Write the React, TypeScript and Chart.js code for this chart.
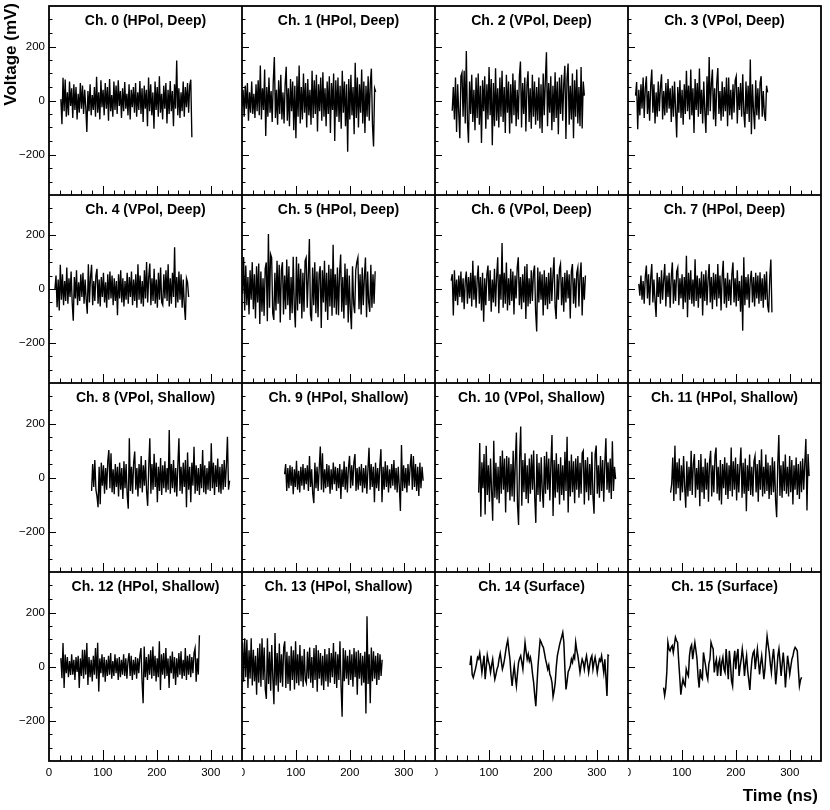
import React, { useEffect, useRef } from "react";
import { Chart, registerables } from "chart.js";

Chart.register(...registerables);

// ---------- data ----------
const TITLES = [
  "Ch. 0 (HPol, Deep)", "Ch. 1 (HPol, Deep)", "Ch. 2 (VPol, Deep)", "Ch. 3 (VPol, Deep)",
  "Ch. 4 (VPol, Deep)", "Ch. 5 (HPol, Deep)", "Ch. 6 (VPol, Deep)", "Ch. 7 (HPol, Deep)",
  "Ch. 8 (VPol, Shallow)", "Ch. 9 (HPol, Shallow)", "Ch. 10 (VPol, Shallow)", "Ch. 11 (HPol, Shallow)",
  "Ch. 12 (HPol, Shallow)", "Ch. 13 (HPol, Shallow)", "Ch. 14 (Surface)", "Ch. 15 (Surface)",
];

// first and last sample time of each trace (ns)
const T_START = [22, 0, 32, 14, 11, 1, 30, 20, 79, 79, 81, 79, 22, 1, 65, 66];
const T_END = [265, 248, 277, 259, 259, 247, 279, 267, 335, 336, 335, 336, 279, 260, 323, 322];

const X_TICK_LABELS = [0, 100, 200, 300];
const Y_TICK_LABELS = [-200, 0, 200];
const X_MIN = 0;
const X_MAX = 358;
const Y_MIN = -350;
const Y_MAX = 350;

const CH0 = [
  5, -88, 84, -40, 78, -60, 30, -55, 70, -20,
  45, -65, 60, -35, 50, -70, 25, -45, 65, -30,
  55, -50, 40, -25, -117, 35, -40, 60, -55, 20,
  -35, 50, -60, 88, -45, 30, -70, 75, -25, 40,
  -55, 65, -30, 50, -75, 80, -40, 20, -60, 70,
  -35, 55, -50, 75, -20, 35, -65, 45, -40, 68,
  -30, 25, -55, 60, -70, 40, -25, 50, -45, 65,
  -60, 30, -35, 72, -50, 45, -80, 55, -30, 40,
  -95, 85, -40, 60, -55, 30, -105, 70, -35, 50,
  -60, 90, -45, 25, -70, 55, -30, 65, -85, 40,
  -50, 72, -40, 35, -95, 60, -30, 148, -55, 45,
  -65, 30, -40, 70, -60, 50, -25, 65, -45, 55,
  77, -136,
];
const CH1 = [
  -20, 40, -60, 55, -30, 65, -75, 30, -45, 70,
  -50, 25, -65, 60, -40, 75, -55, 130, -70, 45,
  -35, 115, -131, 50, -60, 85, -45, 35, -80, 70,
  161, -65, 40, -90, 75, -50, 95, -70, 30, -85,
  60, 125, -75, 45, -95, 80, -40, 70, -110, 55,
  -140, 90, -60, 130, -85, 50, -70, 100, -45, 65,
  -100, 80, -55, 40, -90, 110, -65, 75, -50, 95,
  -115, 60, -40, 85, -75, 105, -60, 45, -95, 70,
  -50, 90, -120, 65, -35, 100, -150, 75, -60, 85,
  -80, 55, -105, 110, -45, 70, -95, 60, -190, 80,
  -70, 95, -55, 50, -125, 140, -65, 85, -100, 60,
  -45, 115, -85, 70, -120, 55, -60, 90, -75, 65,
  118, -90, -170, 45, 32,
];
const CH2 = [
  -38, 50, -70, 85, -117, 60, -45, -140, 90, 103,
  -60, 110, -85, 183, -75, -156, 70, -50, 95, -80,
  40, -110, 85, -65, 100, -90, 55, -157, 75, -40,
  90, -105, 60, -70, 124, -55, 80, -166, 65, -95,
  119, -75, 45, -100, 85, -60, 110, -80, 50, -120,
  95, -45, 70, -122, 60, -85, 100, -55, 75, -95,
  40, -70, 90, 144, -100, 65, -50, 85, -115, 55,
  108, -80, 45, -105, 95, -60, 70, -90, 50, -75,
  85, -104, 60, -120, 100, -55, 75, 179, -95, 65,
  -45, 90, -110, 55, -80, 105, -65, 70, -125, 85,
  -50, 95, -75, 60, 129, -143, 80, 137, -90, 55,
  -70, 100, -140, 75, -60, 115, -85, 50, -95, 124,
  -104, 70, 18,
];
const CH3 = [
  18, 68, -106, 40, -55, 60, -30, 85, -65, 45,
  90, -50, 35, -75, 55, 115, -45, 60, -85, 30,
  -60, 70, -40, 50, 97, -70, 35, -55, 65, -45,
  80, -30, 45, -80, 55, -60, 70, -35, -137, 50,
  -45, 75, -65, 40, -90, 60, -50, 110, -40, 55,
  -70, 115, -55, 45, -120, 80, -35, 65, -60, 118,
  -50, 40, -85, 70, -45, -120, 90, -55, 161, -40,
  60, 115, -70, 45, -95, 65, 120, -50, 35, -75,
  70, -60, 50, -40, 85, -95, 85, -55, 40, -70,
  60, -45, 75, 90, -85, 50, -35, 65, -60, 97,
  -45, -100, 70, -50, 55, -80, 152, -125, 60, -40,
  -106, 75, -55, 45, -70, 65, 90, -60, 35, -50,
  -76, 55, 30,
];
const CH4 = [
  0, 50, -68, 35, -80, 90, -40, 55, -60, 30,
  -45, 80, -55, 40, -30, 65, -50, -118, 45, -35,
  70, -60, 25, -45, 55, -30, 60, -55, 35, -40,
  -92, 92, -50, 45, 90, -60, 30, -45, 50, 75,
  -55, 35, -65, 45, -30, 60, -50, 25, -70, 55,
  -40, 65, -35, 50, -60, 40, -45, 30, -98, 55,
  -35, 70, -50, 40, -65, 30, -40, 60, -55, 45,
  -30, 65, -60, 35, -45, 55, -70, 92, -40, 50,
  -55, 30, -65, 70, -35, 100, -50, 45, 95, -60,
  40, -45, 75, -55, 35, -70, 60, -40, 80, -50,
  -60, 55, -35, 70, -45, 92, -65, 40, -55, 60,
  -30, 155, -70, 45, -50, 65, -40, 55, -70, 35,
  -60, -115, 40, 25, -30,
];
const CH5 = [
  -18, 119, -80, 87, -60, 45, -95, 70, -40, 100,
  -75, 55, -110, 85, -50, 95, -130, 65, -85, 40,
  -100, 75, 99, -120, 205, -70, 130, 117, -91, -115,
  60, -80, 105, -55, 90, -125, 70, 100, -95, 50,
  -75, 110, -60, 85, -115, 45, -90, 120, -65, -143,
  120, -80, 95, -55, 75, -110, 60, -85, 105, 117,
  -70, 50, 186, -95, -120, 80, -60, 100, -90, 65,
  -105, 55, 85, -145, 70, -50, 105, -85, 60, -115,
  90, -65, 75, -100, 165, -70, 55, -95, 80, -98,
  60, 128, -85, 45, -110, 95, -60, 75, -125, 50,
  -80, -150, 85, -55, -90, 70, 100, 117, -75, 55,
  -95, 80, -60, 45, 117, -105, 65, -50, -85, 90,
  -70, 55, -55, 66,
];
const CH6 = [
  31, 55, -99, 70, -45, 35, -60, 50, -30, 65,
  -50, 40, -75, 30, 65, -55, 45, -35, 60, -65,
  105, -40, 50, -70, 35, 87, -55, 45, -80, 60,
  -122, 40, -60, 55, 87, -45, 70, -85, 35, -50,
  75, -65, 45, 118, -90, 55, -40, 171, -70, 60,
  -55, 99, -80, 40, -60, 75, -45, 65, -95, 50,
  -35, 80, 118, -60, 45, -75, 55, -50, 85, -112,
  93, -65, 40, -55, 70, -45, 60, 87, -85, -158,
  80, -50, 65, -40, 55, -99, 70, -60, 45, -75,
  60, -55, 80, -45, 50, 118, -65, -112, 55, -40,
  75, 93, -60, 45, -85, 60, -50, 70, -35, 55,
  -110, 65, 93, -55, 40, -70, 60, 80, -65, 50,
  99, -99, 45, -40, 50,
];
const CH7 = [
  19, -25, 50, -40, 30, -55, 45, 87, -35, 55,
  -60, 40, 93, -50, 35, -45, -104, 60, -30, 45,
  -55, 70, -40, 35, 93, -65, 50, -30, 60, -70,
  45, 99, -55, 35, -45, 65, 80, -60, 40, -35,
  55, -75, 45, -50, 124, -105, 60, -40, 70, -55,
  35, -65, 111, -45, 50, -70, 40, -35, 65, -99,
  55, -45, 70, -60, 35, 93, -50, 45, -75, 60,
  -40, 55, -65, 93, -35, 50, -80, 45, 105, -55,
  40, -70, 60, -45, 35, -60, 55, 99, -50, 40,
  -65, 70, -45, 30, -85, 50, -155, 118, -60, 45,
  -40, 55, -70, 35, 68, -50, 45, -65, 60, -35,
  50, -55, 62, -45, 40, -70, 55, -40, 65, -60,
  -87, 45, 110, -87,
];
const CH8 = [
  -50, 50, -35, 65, -45, -70, -110, 40, -99, 55,
  -30, 45, -60, 35, -45, 60, 102, -40, 90, -55,
  30, -62, 50, -35, 40, -70, 55, -45, 35, -80,
  60, -40, 50, -65, -116, 145, -50, 40, -60, 55,
  96, -45, 35, -70, 50, -40, 80, -55, 45, -30,
  65, -50, -105, 40, 145, -60, 50, -45, 88, -35,
  55, -92, 40, -50, 72, -65, 45, -40, 60, -55,
  35, -45, 176, -60, 50, -40, 65, -55, 35, -70,
  45, 145, -50, 40, -60, 55, -35, 65, -110, 93,
  -45, 40, -92, 55, -30, 114, -60, 45, -50, 35,
  -65, 50, -40, 102, -55, 45, -62, 35, -45, 60,
  -50, 127, -40, 55, -65, 45, -35, 70, -55, 40,
  -60, 50, -45, 65, -35, 45, 151, -45, -12,
];
const CH9 = [
  12, 50, -50, 35, -40, 45, -30, 40, -62, 30,
  -35, 62, -45, 25, -55, 40, -30, 50, -45, 35,
  -25, 45, -50, 80, -35, 30, -60, -95, 55, -40,
  40, -50, 35, 115, -45, 90, -55, 30, -40, 50,
  -35, 45, -60, 30, -45, 55, -25, 40, -50, 35,
  -40, 50, -80, 30, -35, 60, -45, 40, -55, 35,
  80, -40, 45, -30, 55, 87, -50, 35, -45, 40,
  -30, 50, -55, 35, -40, 45, -60, 30, 110, -45,
  50, -35, 40, -92, 55, -40, 35, -50, 45, 105,
  -92, 40, -45, 60, -35, 45, -55, 30, -40, 50,
  -30, 65, -45, 35, -55, 40, -35, -124, 120, -50,
  45, -40, 35, -55, 50, -30, 40, 87, -45, 80,
  -35, 50, -50, 40, -68, 55, -40, 40, -12,
];
const CH10 = [
  -56, 128, -145, 56, -40, 87, -137, 118, -65, 45,
  -90, 70, -50, -160, 136, -75, 55, -81, 40, -95,
  80, -60, 100, -45, 70, -130, 80, -55, 74, -85,
  50, -70, 99, -90, 60, 167, -100, -176, 75, 189,
  -105, 65, -55, 90, -80, 45, -95, 70, -60, 85,
  -45, 100, -75, -168, 87, -65, 55, -90, 75, -50,
  -112, 80, -60, 95, -45, 70, -85, 55, 157, -143,
  65, -75, 90, -55, 50, -100, 75, -65, 45, -85,
  95, -50, 151, -130, 62, -70, 85, -55, 60, -95,
  70, -45, 80, -75, 55, -60, 90, 99, -100, 65,
  -55, 75, -85, 50, -65, 95, -70, -134, 87, 118,
  -60, 45, -75, 80, -50, 65, -90, 55, 145, -45,
  56, -56, 70, -80, 134, -50, 40, -6,
];
const CH11 = [
  -56, -25, 74, -87, 118, -62, 56, -40, 70, -85,
  45, -55, 80, -35, -112, 60, -70, 40, -50, 99,
  -65, 50, 87, -75, 35, -45, 65, -106, 87, -55,
  40, -80, 70, -45, 55, -90, 60, 99, -70, 45,
  -55, 80, 111, -60, 40, -85, 65, -100, 50, -40,
  75, -65, 55, -80, 45, -50, 111, -70, 60, -45,
  74, -85, 50, -55, 40, 111, -75, 55, -60, 70,
  -125, 45, -50, 85, -65, 40, -70, 60, 80, -55,
  50, -90, 65, -45, 105, -70, 40, -60, 85, -50,
  55, -80, 45, -65, 75, -55, 60, -85, -147, 50,
  157, -68, 45, -75, 60, -50, 85, -60, 40, -70,
  80, -55, 65, -100, 45, -45, 74, -65, 50, -80,
  60, -55, 70, -45, 55, 143, -122, 87, 5,
];
const CH12 = [
  31, -43, 87, -80, 44, -25, 35, -40, 20, -31,
  45, -30, 25, -50, 35, -20, 40, -80, 30, -35,
  62, -45, 62, -30, 87, -68, 35, -40, 25, -55,
  40, -30, 68, -45, 88, -93, 30, -25, 45, -40,
  35, -56, 25, -35, 40, -30, 50, -45, 20, -35,
  45, -25, 30, -50, 35, -40, 25, -30, 45, -35,
  30, -45, 20, 50, -35, 40, -50, 25, -30, 35,
  -45, 30, -25, 40, 68, -55, -136, 74, -40, 35,
  -50, 45, -30, 60, -45, 74, -35, 40, -55, 30,
  -40, 93, -87, 45, -30, 50, -45, 68, -35, 30,
  -80, 40, -25, 55, -45, 35, -68, 30, -40, 50,
  -30, 56, -45, 25, -35, 68, -50, 40, -30, 45,
  -40, 35, -25, 50, 68, -56, 30, -30, 116,
];
const CH13 = [
  89, -56, 105, -40, 99, -80, 60, -45, 105, -70,
  62, -55, 40, -105, 68, -60, 85, -75, 105, -50,
  70, -85, -120, 105, -65, 55, -90, 80, -45, -140,
  124, -70, 50, -93, 85, -60, 45, -75, 70, 93,
  -80, 55, -65, 40, -90, 75, -50, 60, -85, 93,
  -62, 45, -70, 80, -55, 40, -75, 65, -50, -62,
  55, -45, 70, -60, 35, -80, 68, -50, 80, -93,
  60, -45, 50, -70, 40, -87, 65, -55, 45, -75,
  68, -60, 50, -40, 87, -65, 55, -80, 45, -50,
  93, -70, -186, 68, -55, 60, -45, 40, -68, 62,
  -50, 45, -75, 68, -40, 55, -105, 60, -45, 50,
  -70, 40, -60, 55, -174, 186, -65, 45, -136, 70,
  -55, 56, -45, 40, -68, 50, -50, 45, -35, 25,
];
const CH14 = [
  5, 40, -30, -41, -25, -10, 10, 34, 28, 49,
  15, -22, 10, 40, -47, -5, 42, 20, 5, -22,
  5, 27, -15, -47, -30, -10, 2, 30, 49, 20,
  -10, 5, 27, 55, 80, 98, 60, 27, -30, -72,
  -30, 2, -40, -72, -25, 15, 30, 40, 15, -10,
  40, 88, 55, 27, 45, 20, 34, 10, -29, -60,
  -107, -147, -72, 0, 50, 98, 90, 78, 71, 50,
  27, 10, -10, 5, -29, -40, -60, -112, -90, -60,
  0, 40, 60, 80, 96, 110, 126, 90, -10, -85,
  -55, -20, -10, 2, 27, 15, 40, 30, 89, 60,
  40, 10, -22, 5, 27, 15, -10, 20, 40, 10,
  -22, 5, 30, 40, -10, 15, 34, 10, -22, 5,
  27, 20, 40, 10, -22, 27, -40, -109, 42, 40,
];
const CH15 = [
  -78, -107, -80, -20, 89, 65, 58, 70, 77, 52,
  80, 108, 96, 89, 20, -40, -104, -70, -47, -65,
  -72, -10, -25, -35, 40, 70, 80, 27, 60, 89,
  60, 27, -40, -78, -10, -40, -47, 52, 25, 2,
  -30, -47, 10, 27, 89, 75, 65, -22, 10, 27,
  -35, 10, 27, -35, 15, 34, -10, -22, 65, 10,
  -47, 58, 10, -53, -72, 20, 58, -10, 40, 65,
  -35, 0, 27, 65, 30, -35, 10, 40, -16, -50,
  -87, -20, 27, 50, 58, -10, 30, 65, 20, -29,
  10, 40, 0, -47, -10, 60, 112, 80, 52, 10,
  -22, 30, 65, 10, -66, -20, 40, 65, 20, -35,
  10, 52, 0, -78, -20, 40, 10, -29, 0, 27,
  40, 60, 71, 65, 58, -10, -72, -50, -40,
];

const SERIES = [CH0, CH1, CH2, CH3, CH4, CH5, CH6, CH7, CH8, CH9, CH10, CH11, CH12, CH13, CH14, CH15];

// ---------- layout ----------
const W = 830;
const H = 810;
const COL_X = [49, 242, 435, 628, 821];
const ROW_Y = [6, 195, 383, 572, 761];
const FONT = "'Liberation Sans', Arial, Helvetica, sans-serif";

function fmt(v: number) {
  return v < 0 ? "\u2212" + Math.abs(v) : String(v);
}

function makePlugin(idx: number) {
  const r = Math.floor(idx / 4);
  const c = idx % 4;
  return {
    id: "rootFrame" + idx,
    afterDraw(chart: any) {
      const { ctx, chartArea: a, scales } = chart;
      const xs = scales.x;
      const ys = scales.y;
      ctx.save();
      ctx.strokeStyle = "#000";
      ctx.fillStyle = "#000";
      ctx.lineWidth = 1;
      ctx.beginPath();
      for (let v = -300; v <= 300; v += 50) {
        const y = Math.round(ys.getPixelForValue(v)) + 0.5;
        const len = v % 200 === 0 ? 7 : 3.5;
        ctx.moveTo(a.left, y);
        ctx.lineTo(a.left + len, y);
      }
      const xl = r === 3 ? 11 : 9;
      for (let v = 20; v < X_MAX; v += 20) {
        const x = Math.round(xs.getPixelForValue(v)) + 0.5;
        const len = v % 100 === 0 ? xl : xl / 2;
        ctx.moveTo(x, a.bottom);
        ctx.lineTo(x, a.bottom - len);
      }
      ctx.stroke();
      ctx.lineWidth = 1.8;
      ctx.strokeRect(a.left, a.top, a.right - a.left, a.bottom - a.top);

      ctx.font = "11.5px " + FONT;
      if (c === 0) {
        ctx.textAlign = "right";
        ctx.textBaseline = "middle";
        for (const v of Y_TICK_LABELS) {
          ctx.fillText(fmt(v), a.left - 4, ys.getPixelForValue(v));
        }
      }
      if (r === 3) {
        ctx.textAlign = "center";
        ctx.textBaseline = "middle";
        for (const v of X_TICK_LABELS) {
          ctx.fillText(fmt(v), xs.getPixelForValue(v), a.bottom + 12);
        }
      }
      ctx.font = "bold 14px " + FONT;
      ctx.textAlign = "center";
      ctx.textBaseline = "middle";
      ctx.fillText(TITLES[idx], (a.left + a.right) / 2, a.top + 15);
      ctx.restore();
    },
  };
}

function Panel({ idx }: { idx: number }) {
  const ref = useRef<HTMLCanvasElement>(null);
  const r = Math.floor(idx / 4);
  const c = idx % 4;
  const left = c === 0 ? 0 : COL_X[c];
  const right = c === 3 ? W : COL_X[c + 1];
  const top = r === 0 ? 0 : ROW_Y[r];
  const bottom = r === 3 ? H : ROW_Y[r + 1];
  const w = right - left;
  const h = bottom - top;
  const pad = {
    left: COL_X[c] - left,
    right: right - COL_X[c + 1],
    top: ROW_Y[r] - top,
    bottom: bottom - ROW_Y[r + 1],
  };

  useEffect(() => {
    if (!ref.current) return;
    const vals = SERIES[idx];
    const t0 = T_START[idx];
    const t1 = T_END[idx];
    const n = vals.length;
    const data = vals.map((v, i) => ({ x: t0 + (i * (t1 - t0)) / (n - 1), y: v }));
    const surface = idx >= 14;
    const chart = new Chart(ref.current, {
      type: "line",
      data: {
        datasets: [
          {
            data,
            borderColor: "#000",
            borderWidth: surface ? 1.5 : 1.35,
            pointRadius: 0,
            tension: 0,
            fill: false,
          },
        ],
      },
      options: {
        animation: false,
        responsive: false,
        maintainAspectRatio: false,
        devicePixelRatio: 1,
        layout: { padding: pad },
        events: [],
        scales: {
          x: { type: "linear", min: X_MIN, max: X_MAX, display: false },
          y: { type: "linear", min: Y_MIN, max: Y_MAX, display: false },
        },
        plugins: {
          legend: { display: false },
          tooltip: { enabled: false },
          title: { display: false },
        },
      },
      plugins: [makePlugin(idx)],
    } as any);
    return () => chart.destroy();
  }, [idx]);

  return (
    <canvas
      ref={ref}
      width={w}
      height={h}
      style={{ position: "absolute", left, top, width: w, height: h, display: "block" }}
    />
  );
}

export default function App() {
  const panels = [];
  for (let i = 0; i < 16; i++) panels.push(<Panel key={i} idx={i} />);
  return (
    <div
      style={{
        position: "fixed",
        left: 0,
        top: 0,
        width: W,
        height: H,
        background: "#fff",
        overflow: "hidden",
      }}
    >
      {panels}
      <div
        style={{
          position: "absolute",
          left: 2,
          top: 113,
          width: 110,
          textAlign: "right",
          transformOrigin: "0 0",
          transform: "rotate(-90deg)",
          font: "bold 17px " + FONT,
          lineHeight: "18px",
          whiteSpace: "nowrap",
          color: "#000",
        }}
      >
        Voltage (mV)
      </div>
      <div
        style={{
          position: "absolute",
          right: 12,
          top: 786,
          font: "bold 17px " + FONT,
          lineHeight: "20px",
          whiteSpace: "nowrap",
          color: "#000",
        }}
      >
        Time (ns)
      </div>
    </div>
  );
}
